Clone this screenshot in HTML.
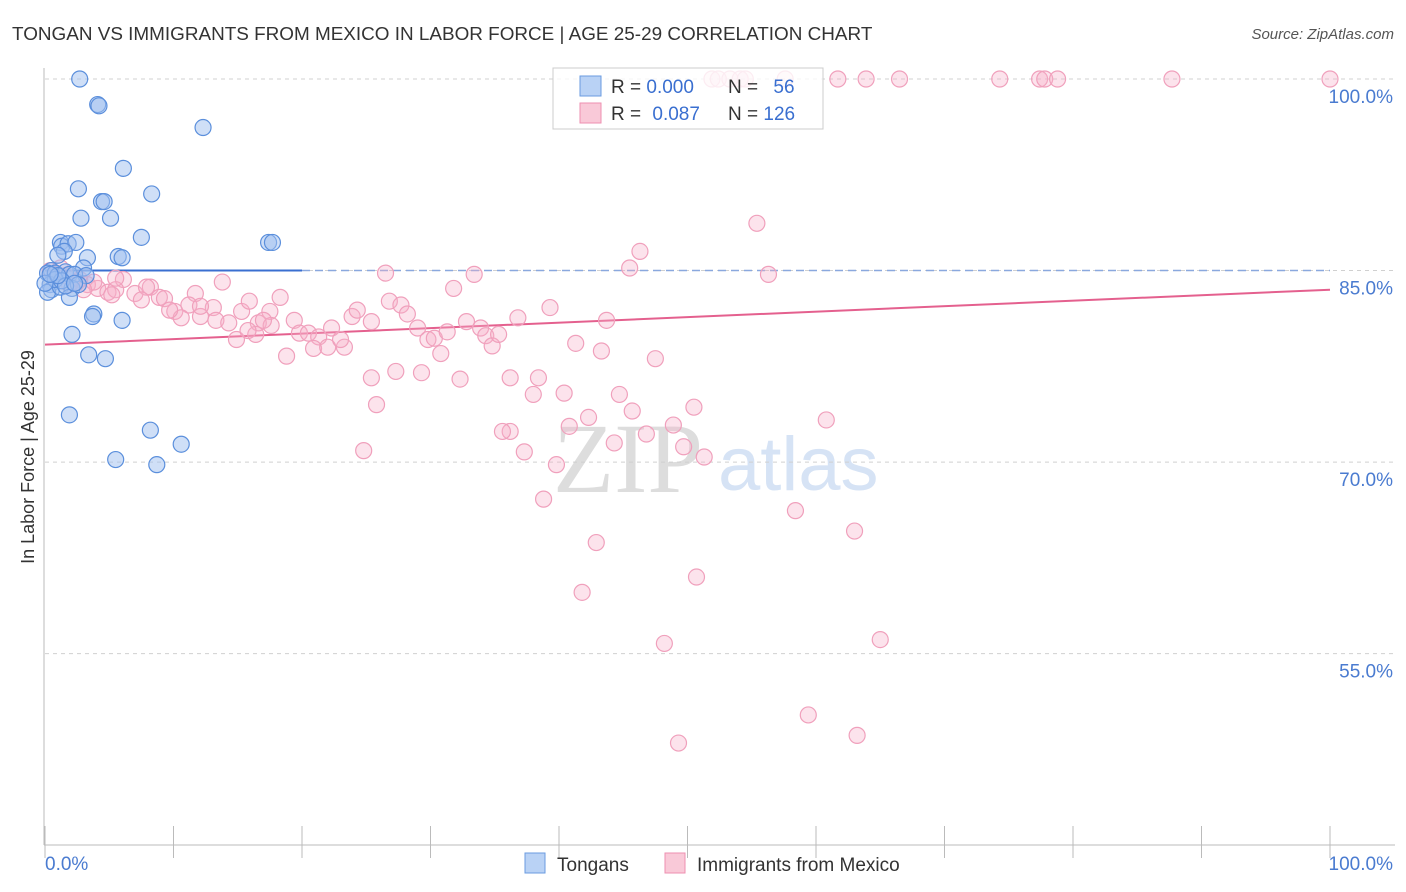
<!DOCTYPE html>
<html><head><meta charset="utf-8"><style>
body{margin:0;background:#fff;font-family:"Liberation Sans",sans-serif;}
#wrap{position:relative;width:1406px;height:892px;overflow:hidden;}
svg text{font-family:"Liberation Sans",sans-serif;}
</style></head><body>
<div id="wrap">
<svg id="chart" width="1406" height="892">
<text x="12" y="40" font-size="18.9" fill="#333">TONGAN VS IMMIGRANTS FROM MEXICO IN LABOR FORCE | AGE 25-29 CORRELATION CHART</text>
<text x="1394" y="39" font-size="15" fill="#555" text-anchor="end" font-style="italic">Source: ZipAtlas.com</text>
<text x="553" y="492" font-size="100" fill="#ddd" style="font-family:'Liberation Serif',serif">ZIP</text>
<text x="718" y="490" font-size="76" fill="#d6e3f5">atlas</text>
<g id="grid"></g>
<g id="axes"></g>
<g id="trends"></g>
<g id="points"></g>
<g>
<rect x="553" y="68" width="270" height="61" fill="rgba(255,255,255,0.8)" stroke="#ccc"/>
<rect x="580" y="76" width="21" height="20" fill="#b9d2f5" stroke="#6a9be0"/>
<rect x="580" y="103" width="21" height="20" fill="#f9c9d8" stroke="#ee8fb0"/>
<text x="611" y="93" font-size="19" fill="#333">R = <tspan fill="#3a6fd0">0.000</tspan></text>
<text x="728" y="93" font-size="19" fill="#333">N = <tspan fill="#3a6fd0" dx="10">56</tspan></text>
<text x="611" y="120" font-size="19" fill="#333">R = <tspan fill="#3a6fd0" dx="6">0.087</tspan></text>
<text x="728" y="120" font-size="19" fill="#333">N = <tspan fill="#3a6fd0">126</tspan></text>
</g>
<text x="34" y="457" font-size="18" fill="#333" text-anchor="middle" transform="rotate(-90 34 457)">In Labor Force | Age 25-29</text>
<g>
<rect x="525" y="853" width="20" height="20" fill="#b9d2f5" stroke="#6a9be0"/>
<text x="557" y="871" font-size="19" fill="#333">Tongans</text>
<rect x="665" y="853" width="20" height="20" fill="#f9c9d8" stroke="#ee8fb0"/>
<text x="697" y="871" font-size="19" fill="#333">Immigrants from Mexico</text>
</g>
</svg></div>
<script>
const yTicks=[100,85,70,55];
const yTickLabels=["100.0%","85.0%","70.0%","55.0%"];
const xTickValues=[0,10,20,30,40,50,60,70,80,90,100];
const tonganX=[2.7,4.1,4.2,12.3,6.1,8.3,2.6,4.4,4.6,2.8,5.1,7.5,1.2,1.3,1.8,2.4,1.5,1.0,5.7,6.0,3.3,17.4,17.7,3.0,0.5,0.2,0.8,1.6,1.9,2.3,3.2,0.4,0.5,0.2,1.2,2.1,2.6,1.9,3.8,3.7,6.0,2.1,3.4,4.7,1.9,8.2,10.6,5.5,8.7,0.8,1.3,0,1.6,2.3,1.0,0.4];
const tonganY=[100,98.0,97.9,96.2,93.0,91.0,91.4,90.4,90.4,89.1,89.1,87.6,87.2,86.9,87.1,87.2,86.5,86.2,86.1,86.0,86.0,87.2,87.2,85.2,85.0,84.8,84.8,84.9,84.7,84.7,84.6,83.9,83.5,83.3,83.7,83.6,83.9,82.9,81.6,81.4,81.1,80.0,78.4,78.1,73.7,72.5,71.4,70.2,69.8,84.3,84.2,84.0,83.8,84.0,84.6,84.7];
const mexicoX=[51.9,52.4,53.3,54.1,54.5,57.6,61.7,63.9,66.5,74.3,77.4,77.8,78.8,87.7,100,55.4,46.3,45.5,26.5,33.4,56.3,13.8,6.1,8.2,3.3,4.1,4.9,5.5,7.0,7.9,8.9,9.3,11.7,11.2,10.1,10.6,12.1,13.1,13.3,14.3,15.3,15.9,17.5,18.3,16.6,17.6,16.4,14.9,19.4,19.8,20.5,21.3,20.9,22.0,22.3,23.3,23.9,24.3,26.8,27.7,28.2,29.0,29.8,30.3,31.3,31.8,32.8,33.9,34.3,34.8,35.3,36.8,39.3,43.7,41.3,43.3,47.5,30.8,18.8,25.4,27.3,29.3,32.3,25.8,24.8,36.2,38.4,38.0,40.4,44.7,45.7,50.5,42.3,40.8,44.3,46.8,48.9,49.7,51.3,60.8,36.2,35.6,37.3,39.8,38.8,58.4,63.0,42.9,50.7,41.8,48.2,65.0,59.4,49.3,63.2,1.2,0.4,1.6,2.7,2.5,3.8,3.0,5.5,5.2,7.5,0.8,1.9,12.1,9.7,15.8,17.0,23.0,25.4];
const mexicoY=[100,100,100,100,100,100,100,100,100,100,100,100,100,100,100,88.7,86.5,85.2,84.8,84.7,84.7,84.1,84.3,83.7,83.9,83.6,83.3,83.5,83.2,83.7,82.9,82.8,83.2,82.3,81.8,81.3,81.4,82.1,81.1,80.9,81.8,82.6,81.8,82.9,80.9,80.7,80.0,79.6,81.1,80.1,80.1,79.8,78.9,79.0,80.5,79.0,81.4,81.9,82.6,82.3,81.6,80.5,79.6,79.7,80.2,83.6,81.0,80.5,79.9,79.1,80.0,81.3,82.1,81.1,79.3,78.7,78.1,78.5,78.3,76.6,77.1,77.0,76.5,74.5,70.9,76.6,76.6,75.3,75.4,75.3,74.0,74.3,73.5,72.8,71.5,72.2,72.9,71.2,70.4,73.3,72.4,72.4,70.8,69.8,67.1,66.2,64.6,63.7,61.0,59.8,55.8,56.1,50.2,48.0,48.6,85.2,85.0,84.6,84.3,84.1,84.1,83.5,84.4,83.1,82.7,84.7,83.9,82.2,81.9,80.3,81.1,79.6,81.0];
const tonganTrend=[85.0,85.0];
const mexicoTrend=[79.2,83.5];
const NS="http://www.w3.org/2000/svg";
const xS=v=>45+v*12.85;
const yS=v=>79+(100-v)*12.77;
function mk(tag,attrs,parent){const e=document.createElementNS(NS,tag);for(const k in attrs)e.setAttribute(k,attrs[k]);parent.appendChild(e);return e;}
const grid=document.getElementById('grid'),axes=document.getElementById('axes'),tr=document.getElementById('trends'),pts=document.getElementById('points');
yTicks.forEach((t,i)=>{
 const l=mk('line',{x1:45,x2:1395,y1:yS(t),y2:yS(t),stroke:'#d0d0d0','stroke-dasharray':'4,4'},grid);
 
 
 const tx=mk('text',{x:1393,y:yS(t)+24,'font-size':19,fill:'#4a7bd0','text-anchor':'end'},grid);
 tx.textContent=yTickLabels[i];
 
 
});
const ya=mk('line',{x1:44,x2:44,y1:68,y2:845,stroke:'#bbb'},axes);


const xa=mk('line',{x1:44,x2:1395,y1:845,y2:845,stroke:'#bbb'},axes);


xTickValues.forEach(v=>{
 const t=mk('line',{x1:xS(v),x2:xS(v),y1:826,y2:858,stroke:'#bbb'},axes);
 
 
});
const xl0=mk('text',{x:45,y:870,'font-size':19,fill:'#4a7bd0'},axes);xl0.textContent='0.0%';


const xl1=mk('text',{x:1393,y:870,'font-size':19,fill:'#4a7bd0','text-anchor':'end'},axes);xl1.textContent='100.0%';


const tA=mk('line',{x1:xS(0),x2:xS(20),y1:yS(tonganTrend[0]),y2:yS(tonganTrend[0]+(tonganTrend[1]-tonganTrend[0])*0.2),stroke:'#3a6fd0','stroke-width':2},tr);


const tB=mk('line',{x1:xS(20),x2:xS(100),y1:yS(tonganTrend[0]+(tonganTrend[1]-tonganTrend[0])*0.2),y2:yS(tonganTrend[1]),stroke:'#8aa8de','stroke-width':1.5,'stroke-dasharray':'8,5'},tr);


const mT=mk('line',{x1:xS(0),x2:xS(100),y1:yS(mexicoTrend[0]),y2:yS(mexicoTrend[1]),stroke:'#e4608e','stroke-width':2},tr);


mexicoX.forEach((x,i)=>{
 const c=mk('circle',{cx:xS(x),cy:yS(mexicoY[i]),r:8,fill:'rgba(247,176,200,0.35)',stroke:'#f0a0bc','stroke-width':1.2},pts);
 
 
});
tonganX.forEach((x,i)=>{
 const c=mk('circle',{cx:xS(x),cy:yS(tonganY[i]),r:8,fill:'rgba(160,192,240,0.5)',stroke:'#5b8fdc','stroke-width':1.2},pts);
 
 
});
</script>
</body></html>
